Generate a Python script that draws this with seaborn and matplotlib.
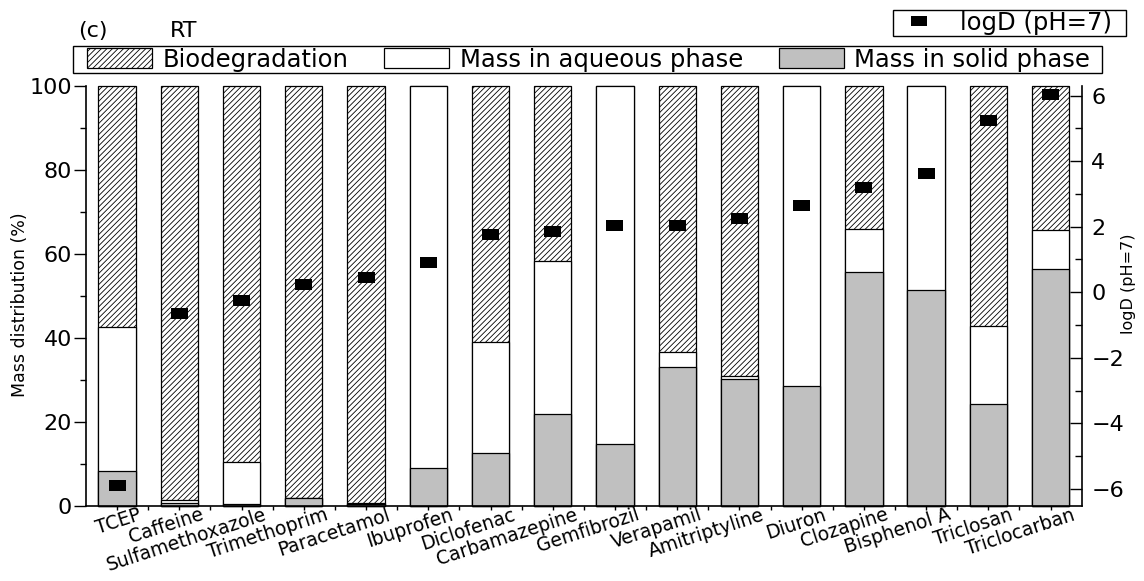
import numpy as np
import matplotlib
matplotlib.use("Agg")
import matplotlib.pyplot as plt
import matplotlib.patches as mpatches
import matplotlib.lines as mlines
from matplotlib.markers import MarkerStyle
from matplotlib.transforms import ScaledTranslation
from matplotlib.ticker import MultipleLocator
import seaborn as sns

# ---------------- data ----------------
compounds = ["TCEP", "Caffeine", "Sulfamethoxazole", "Trimethoprim", "Paracetamol",
             "Ibuprofen", "Diclofenac", "Carbamazepine", "Gemfibrozil", "Verapamil",
             "Amitriptyline", "Diuron", "Clozapine", "Bisphenol A", "Triclosan",
             "Triclocarban"]
solid = [8.4, 0.6, 0.4, 1.8, 0.5, 9.0, 12.5, 21.9, 14.8, 33.0, 30.2, 28.6, 55.6, 51.4, 24.2, 56.4]
aqueous = [34.3, 0.8, 10.0, 0.2, 0.1, 91.0, 26.5, 36.3, 85.2, 3.7, 0.8, 71.4, 10.3, 48.6, 18.7, 9.3]
biodeg = [57.3, 98.6, 89.6, 98.0, 99.4, 0.0, 61.0, 41.8, 0.0, 63.3, 69.0, 0.0, 34.1, 0.0, 57.1, 34.3]
logD = [-5.89, -0.64, -0.24, 0.24, 0.46, 0.91, 1.75, 1.86, 2.04, 2.04, 2.26, 2.65, 3.20, 3.61, 5.24, 6.03]
left_ticks = [0, 20, 40, 60, 80, 100]
right_ticks = [-6, -4, -2, 0, 2, 4, 6]

# ---------------- style ----------------
sns.set_theme(style="ticks")
plt.rcParams["font.family"] = ["DejaVu Sans"]
plt.rcParams["hatch.linewidth"] = 0.6
plt.rcParams["hatch.color"] = "black"
for k in ["text.color", "axes.labelcolor", "xtick.color", "ytick.color", "axes.edgecolor"]:
    plt.rcParams[k] = "black"

HATCH = "//////"
W, H = 1144, 581
fig = plt.figure(figsize=(W / 100, H / 100), dpi=100)
fig.patch.set_facecolor("white")
ax = fig.add_axes([86 / W, 1 - 506 / H, (1081.7 - 86) / W, (506 - 85.7) / H])
ax.set_facecolor("white")

solid_a = np.array(solid)
mid = solid_a + np.array(aqueous)
top = mid + np.array(biodeg)

common = dict(width=0.6, edgecolor="black", linewidth=0.9, saturation=1,
              errorbar=None, ax=ax, order=compounds)
sns.barplot(x=compounds, y=top, color="white", hatch=HATCH, **common)
sns.barplot(x=compounds, y=mid, color="white", **common)
sns.barplot(x=compounds, y=solid_a, color="#c0c0c0", **common)
for p in ax.patches:
    p.set_clip_on(False)

ax.set_xlim(-0.5, len(compounds) - 0.5)
ax.set_ylim(0, 100)
ax.set_xlabel("")

# x ticks
xpos = np.arange(len(compounds))
ax.set_xticks(xpos)
ax.set_xticklabels(compounds, rotation=18, ha="right", rotation_mode="anchor", fontsize=13.5)
ax.set_xticks(xpos[:-1] + 0.5, minor=True)
ax.tick_params(axis="x", which="major", length=3, width=1, direction="out", pad=0)
ax.tick_params(axis="x", which="minor", length=3, width=1, direction="out")
off = ScaledTranslation(21 / 100, 5 / 100, fig.dpi_scale_trans)
for lab in ax.get_xticklabels():
    lab.set_transform(lab.get_transform() + off)

# left y axis
ax.set_yticks(left_ticks)
ax.yaxis.set_minor_locator(MultipleLocator(10))
ax.tick_params(axis="y", which="major", length=8.5, width=1, direction="out", labelsize=16, pad=1.5)
ax.tick_params(axis="y", which="minor", length=4.5, width=1, direction="out")
ax.set_ylabel("Mass distribution (%)", fontsize=12.5)
ax.yaxis.set_label_coords(-0.066, 0.48)
ax.yaxis.label.set_va("center")

for s in ["top", "right"]:
    ax.spines[s].set_visible(False)
for s in ["left", "bottom"]:
    ax.spines[s].set_linewidth(1.2)

# right axis with logD markers
ax2 = ax.twinx()
rect = MarkerStyle([(-1.55, -1), (1.55, -1), (1.55, 1), (-1.55, 1), (-1.55, -1)])
sns.scatterplot(x=xpos, y=logD, marker=rect, s=149, color="black", edgecolor="none",
                linewidth=0, legend=False, ax=ax2, zorder=5)
ax2.set_xlim(-0.5, len(compounds) - 0.5)
ax2.set_ylim(-6.52, 6.3)
ax2.set_yticks(right_ticks)
ax2.yaxis.set_minor_locator(MultipleLocator(1))
ax2.tick_params(axis="y", which="major", length=8.5, width=1, direction="in", labelsize=16, pad=7)
ax2.tick_params(axis="y", which="minor", length=5, width=1, direction="in")
ax2.set_ylabel("logD (pH=7)", fontsize=11.5)
ax2.yaxis.set_label_coords(1.0465, 0.528)
ax2.yaxis.label.set_va("center")
for s in ["top", "left", "bottom"]:
    ax2.spines[s].set_visible(False)
ax2.spines["right"].set_linewidth(1.2)

# texts
fig.text(78 / W, 1 - 31 / H, "(c)", fontsize=16, ha="left", va="center")
fig.text(170 / W, 1 - 31 / H, "RT", fontsize=16, ha="left", va="center")

# legend frames (drawn in figure space)
fig.add_artist(mpatches.Rectangle((73 / W, 1 - 73 / H), (1102 - 73) / W, 27 / H,
                                  transform=fig.transFigure, fill=False,
                                  edgecolor="black", linewidth=1.0))
fig.add_artist(mpatches.Rectangle((893 / W, 1 - 36 / H), (1126 - 893) / W, 26 / H,
                                  transform=fig.transFigure, fill=False,
                                  edgecolor="black", linewidth=1.0))

# legends
LFS = 17.5
h_bio = mpatches.Patch(facecolor="white", edgecolor="black", hatch=HATCH, linewidth=0.9, label="Biodegradation")
h_aq = mpatches.Patch(facecolor="white", edgecolor="black", linewidth=0.9, label="Mass in aqueous phase")
h_so = mpatches.Patch(facecolor="#c0c0c0", edgecolor="black", linewidth=0.9, label="Mass in solid phase")
leg1 = fig.legend(handles=[h_bio, h_aq, h_so], loc="center left",
                  bbox_to_anchor=(87 / W, 1 - 59.5 / H, (1090 - 87) / W, 0), mode="expand",
                  ncol=3, fontsize=LFS, handlelength=2.68, handleheight=0.9,
                  handletextpad=0.42, borderpad=0, borderaxespad=0, frameon=False)

h_logd = mlines.Line2D([], [], marker=rect, markersize=12.2, color="black", linestyle="none",
                       markeredgewidth=0, label="logD (pH=7)")
leg2 = fig.legend(handles=[h_logd], loc="center left", bbox_to_anchor=(900 / W, 1 - 23 / H),
                  fontsize=LFS, handlelength=1.56, handletextpad=0.9, borderpad=0,
                  borderaxespad=0, frameon=False)

fig.savefig("out.png", dpi=100, facecolor="white")
